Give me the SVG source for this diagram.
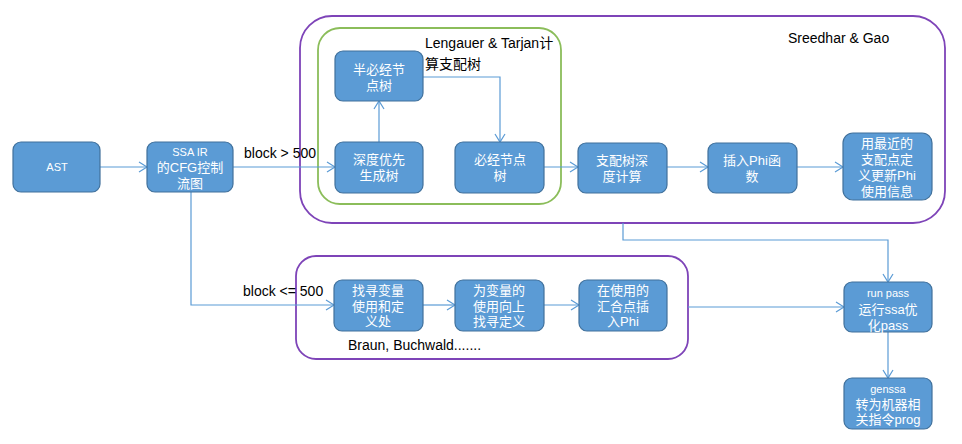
<svg xmlns="http://www.w3.org/2000/svg" width="962" height="444" viewBox="0 0 962 444">
<defs>
<marker id="arr" markerUnits="userSpaceOnUse" markerWidth="12" markerHeight="12" refX="9" refY="6" orient="auto">
<path d="M1,1 L9,6 L1,11" fill="none" stroke="#5B9BD5" stroke-width="1.2"/>
</marker>
</defs>
<style>
.node rect{fill:#5B9BD5;stroke:#41719C;stroke-width:1.2}
.node text{fill:#fff;font-family:"Liberation Sans","Noto Sans CJK SC",sans-serif;font-size:13px;text-anchor:middle;dominant-baseline:central}
.node text.s{font-size:11px}
.conn path{fill:none;stroke:#5B9BD5;stroke-width:1.2}
.grp{fill:none;stroke-width:1.8}
.lbl{fill:#000;font-family:"Liberation Sans","Noto Sans CJK SC",sans-serif;font-size:14px}
</style>
<rect width="962" height="444" fill="#fff"/>
<g id="groups">
<rect class="grp" x="300" y="16" width="645" height="207" rx="32" stroke="#7E44B8"/>
<rect class="grp" x="318" y="28" width="243" height="176" rx="22" stroke="#8BBD5A"/>
<rect class="grp" x="296" y="256" width="392" height="103" rx="20" stroke="#7E44B8"/>
</g>
<g id="labels">
<text class="lbl" x="425" y="48" font-size="15">Lengauer &amp; Tarjan计</text>
<text class="lbl" x="425" y="69" font-size="16">算支配树</text>
<text class="lbl" x="788" y="43">Sreedhar &amp; Gao</text>
<text class="lbl" x="244" y="158" font-size="15">block &gt; 500</text>
<text class="lbl" x="243" y="296" font-size="15">block &lt;= 500</text>
<text class="lbl" x="348" y="350" font-size="13.8">Braun, Buchwald.......</text>
</g>
<g class="conn" id="connectors">
<path d="M100,167 H147" marker-end="url(#arr)"/>
<path d="M233,167 H335" marker-end="url(#arr)"/>
<path d="M379,142 V101" marker-end="url(#arr)"/>
<path d="M423,77 H500 V142" marker-end="url(#arr)"/>
<path d="M544,167 H578" marker-end="url(#arr)"/>
<path d="M667,167 H708" marker-end="url(#arr)"/>
<path d="M797,167 H843" marker-end="url(#arr)"/>
<path d="M623,223 V240 H888 V282" marker-end="url(#arr)"/>
<path d="M191,192 V305 H334" marker-end="url(#arr)"/>
<path d="M423,305 H455" marker-end="url(#arr)"/>
<path d="M544,305 H579" marker-end="url(#arr)"/>
<path d="M688,307 H844" marker-end="url(#arr)"/>
<path d="M888,332 V378" marker-end="url(#arr)"/>
</g>
<g class="node" id="ast"><rect x="13" y="142" width="87" height="50" rx="8"/><text class="s" x="57" y="167">AST</text></g>
<g class="node" id="ssa"><rect x="147" y="142" width="86" height="50" rx="8"/><text class="s" x="190" y="152">SSA IR</text><text x="190" y="167">的CFG控制</text><text x="190" y="183">流图</text></g>
<g class="node" id="semi"><rect x="335" y="51" width="88" height="50" rx="8"/><text x="379" y="69">半必经节</text><text x="379" y="85">点树</text></g>
<g class="node" id="dfs"><rect x="335" y="142" width="88" height="51" rx="8"/><text x="379" y="159">深度优先</text><text x="379" y="175">生成树</text></g>
<g class="node" id="idom"><rect x="455" y="142" width="89" height="51" rx="8"/><text x="500" y="159">必经节点</text><text x="500" y="175">树</text></g>
<g class="node" id="depth"><rect x="578" y="143" width="89" height="50" rx="8"/><text x="622" y="160">支配树深</text><text x="622" y="176">度计算</text></g>
<g class="node" id="phi"><rect x="708" y="143" width="89" height="50" rx="8"/><text x="752" y="160">插入Phi函</text><text x="752" y="176">数</text></g>
<g class="node" id="update"><rect x="843" y="133" width="89" height="67" rx="10"/><text x="887" y="143">用最近的</text><text x="887" y="159">支配点定</text><text x="887" y="175">义更新Phi</text><text x="887" y="191">使用信息</text></g>
<g class="node" id="find"><rect x="334" y="280" width="89" height="51" rx="8"/><text x="378" y="290">找寻变量</text><text x="378" y="306">使用和定</text><text x="378" y="321">义处</text></g>
<g class="node" id="up"><rect x="455" y="280" width="89" height="51" rx="8"/><text x="499" y="290">为变量的</text><text x="499" y="306">使用向上</text><text x="499" y="321">找寻定义</text></g>
<g class="node" id="join"><rect x="579" y="280" width="88" height="51" rx="8"/><text x="623" y="290">在使用的</text><text x="623" y="306">汇合点插</text><text x="623" y="321">入Phi</text></g>
<g class="node" id="run"><rect x="844" y="282" width="88" height="50" rx="8"/><text class="s" x="888" y="293">run pass</text><text x="888" y="309">运行ssa优</text><text x="888" y="325">化pass</text></g>
<g class="node" id="genssa"><rect x="844" y="378" width="88" height="51" rx="8"/><text class="s" x="888" y="389">genssa</text><text x="888" y="404">转为机器相</text><text x="888" y="419">关指令prog</text></g>
</svg>
